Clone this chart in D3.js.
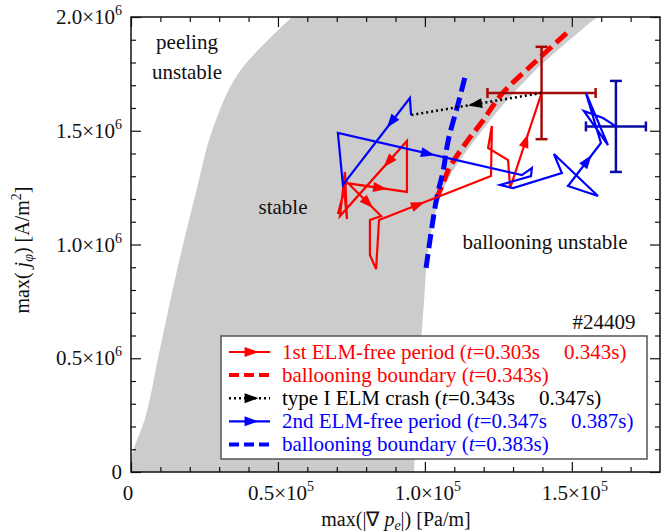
<!DOCTYPE html>
<html>
<head>
<meta charset="UTF-8">
<style>
  body { margin: 0; background: #fff; }
  svg { display: block; }
  text { font-family: "Liberation Serif", "Times New Roman", serif; }
</style>
</head>
<body>
<svg id="chart" width="670" height="532"></svg>
<script src="https://d3js.org/d3.v7.min.js"></script>
<script>
// x in units of 1e5 Pa/m, y in units of 1e6 A/m^2

// stable (gray) region: left and right edges read at the same heights
const stableY     = [0,     0.06,  0.25,  0.5,   0.75,  1.0,   1.25,  1.5,   1.75,  2.0];
const stableLeft  = [0,     0,     0.051, 0.092, 0.133, 0.177, 0.225, 0.276, 0.364, 0.548];
const stableRight = [0.963, 0.965, 0.970, 0.983, 0.997, 1.014, 1.065, 1.194, 1.364, 1.586];

// ballooning boundaries
const redBoundX  = [1.038, 1.062, 1.085, 1.147, 1.194, 1.262, 1.375, 1.483];
const redBoundY  = [1.196, 1.270, 1.341, 1.459, 1.538, 1.662, 1.802, 1.930];
const blueBoundX = [1.004, 1.024, 1.041, 1.062, 1.079, 1.113, 1.140];
const blueBoundY = [0.897, 1.077, 1.209, 1.323, 1.455, 1.618, 1.754];

// 1st ELM-free period (t=0.303s -> 0.343s)
const elm1X = [0.704, 0.732, 0.939, 0.939, 0.711, 0.728, 0.735, 0.721, 0.851, 0.813,
               0.813, 0.834, 0.844, 1.225, 1.228, 1.215, 1.283, 1.290, 1.397];
const elm1Y = [1.134, 1.270, 1.231, 1.455, 1.125, 1.319, 1.112, 1.292, 1.125, 1.108,
               0.954, 0.892, 1.108, 1.301, 1.521, 1.424, 1.371, 1.248, 1.666];
const elm1Arrows = [[1, 0.56], [3, 0.28], [7, 0.66], [12, 0.35], [17, 0.5]];

// type I ELM crash
const crashX = [1.397, 0.953];
const crashY = [1.666, 1.569];
const crashArrows = [[0, 0.51]];

// 2nd ELM-free period (t=0.347s -> 0.387s)
const elm2X = [0.953, 0.949, 0.721, 0.704, 1.330, 1.364, 1.361, 1.256, 1.300, 1.466,
               1.439, 1.589, 1.487, 1.599, 1.548, 1.623, 1.541, 1.606, 1.637, 1.650];
const elm2Y = [1.569, 1.644, 1.262, 1.490, 1.305, 1.336, 1.301, 1.262, 1.248, 1.314,
               1.398, 1.213, 1.257, 1.446, 1.666, 1.437, 1.587, 1.556, 1.530, 1.519];
const elm2Arrows = [[1, 0.28], [3, 0.49], [12, 0.59]];

// error bars (red: end of 1st period, blue: end of 2nd period)
const errX  = [1.397, 1.650];
const errY  = [1.666, 1.519];
const errDX = [0.184, 0.102];
const errDY = [0.203, 0.200];
const errColors = ["#a50a0a", "#0a0aa5"];

const xMajor = [0, 0.5, 1.0, 1.5];
const yMajor = [0, 0.5, 1.0, 1.5, 2.0];

const svg = d3.select("#chart");
const pLeft = 131, pRight = 660, pTop = 17, pBottom = 472;

const x = d3.scaleLinear().domain([0, 1.8]).range([pLeft, pRight]);
const y = d3.scaleLinear().domain([0, 2]).range([pBottom, pTop]);

const zip = (xs, ys) => xs.map((v, i) => [x(v), y(ys[i])]);

// gray stable region
const area = d3.area()
    .y(d => y(d[0]))
    .x0(d => x(d[1]))
    .x1(d => x(d[2]))
    .curve(d3.curveCatmullRom.alpha(0.5));
svg.append("path")
    .datum(stableY.map((v, i) => [v, stableLeft[i], stableRight[i]]))
    .attr("d", area)
    .attr("fill", "#cccccc");

// axes ticks (inward on all four sides)
function ticks(axisFn, pos, vals, size) {
    const g = svg.append("g")
        .attr("transform", pos)
        .call(axisFn.tickValues(vals).tickSizeInner(-size).tickSizeOuter(0).tickFormat(""));
    g.select(".domain").remove();
    g.selectAll(".tick line").attr("stroke", "#111").attr("stroke-width", 1.2);
    return g;
}
const minorX = d3.range(0, 18).map(i => i / 10).filter(v => !xMajor.some(m => Math.abs(m - v) < 1e-6));
const minorY = d3.range(0, 21).map(i => i / 10).filter(v => !yMajor.some(m => Math.abs(m - v) < 1e-6));
ticks(d3.axisBottom(x), `translate(0,${pBottom})`, xMajor, 10);
ticks(d3.axisTop(x), `translate(0,${pTop})`, xMajor, 10);
ticks(d3.axisBottom(x), `translate(0,${pBottom})`, minorX, 5);
ticks(d3.axisTop(x), `translate(0,${pTop})`, minorX, 5);
ticks(d3.axisLeft(y), `translate(${pLeft},0)`, yMajor, 10);
ticks(d3.axisRight(y), `translate(${pRight},0)`, yMajor, 10);
ticks(d3.axisLeft(y), `translate(${pLeft},0)`, minorY, 5);
ticks(d3.axisRight(y), `translate(${pRight},0)`, minorY, 5);

// tick labels
function sciLabel(sel, v, exp) {
    if (v === 0) { sel.text("0"); return; }
    sel.append("tspan").text(v.toFixed(1) + "×10");
    sel.append("tspan").attr("font-size", 14).attr("dy", -9).text(exp);
}
xMajor.forEach(v => {
    const t = svg.append("text")
        .attr("x", x(v) + (v === 0 ? -3 : 3))
        .attr("y", 500)
        .attr("text-anchor", "middle")
        .attr("font-size", 21)
        .attr("fill", "#111");
    sciLabel(t, v, "5");
});
yMajor.forEach(v => {
    const t = svg.append("text")
        .attr("x", 122)
        .attr("y", y(v) + 7)
        .attr("text-anchor", "end")
        .attr("font-size", 21)
        .attr("fill", "#111");
    sciLabel(t, v, "6");
});

// axis titles
const xt = svg.append("text")
    .attr("x", 396).attr("y", 526)
    .attr("text-anchor", "middle").attr("font-size", 20).attr("fill", "#111");
xt.append("tspan").text("max(|∇ ");
xt.append("tspan").attr("font-style", "italic").text("p");
xt.append("tspan").attr("font-style", "italic").attr("font-size", 14).attr("dy", 4).text("e");
xt.append("tspan").attr("dy", -4).text("|) [Pa/m]");

const yt = svg.append("text")
    .attr("transform", "translate(29,250) rotate(-90)")
    .attr("text-anchor", "middle").attr("font-size", 20).attr("fill", "#111");
yt.append("tspan").text("max( ");
yt.append("tspan").attr("font-style", "italic").text("j");
yt.append("tspan").attr("font-style", "italic").attr("font-size", 14).attr("dy", 4).text("φ");
yt.append("tspan").attr("dy", -4).text(") [A/m");
yt.append("tspan").attr("font-size", 14).attr("dy", -8).text("2");
yt.append("tspan").attr("dy", 8).text("]");

// region labels
const labels = [
    ["peeling", 187, 49],
    ["unstable", 187, 79],
    ["stable", 283, 214],
    ["ballooning unstable", 545, 249],
    ["#24409", 604, 329]
];
labels.forEach(([s, lx, ly]) => {
    svg.append("text").attr("x", lx).attr("y", ly).attr("text-anchor", "middle")
        .attr("font-size", 21).attr("fill", "#111").text(s);
});

// ballooning boundaries
svg.append("path").attr("d", d3.line().curve(d3.curveCatmullRom)(zip(redBoundX, redBoundY)))
    .attr("fill", "none").attr("stroke", "#ff0000").attr("stroke-width", 5)
    .attr("stroke-dasharray", "14,6");
svg.append("path").attr("d", d3.line().curve(d3.curveCatmullRom)(zip(blueBoundX, blueBoundY)))
    .attr("fill", "none").attr("stroke", "#0000ff").attr("stroke-width", 5)
    .attr("stroke-dasharray", "14,6");

// error bars
errX.forEach((ex, i) => {
    const g = svg.append("g").attr("stroke", errColors[i]).attr("stroke-width", 2.5);
    const cx = x(ex), cy = y(errY[i]);
    const x0 = x(ex - errDX[i]), x1 = x(ex + errDX[i]);
    const y0 = y(errY[i] - errDY[i]), y1 = y(errY[i] + errDY[i]);
    g.append("line").attr("x1", x0).attr("x2", x1).attr("y1", cy).attr("y2", cy);
    g.append("line").attr("x1", cx).attr("x2", cx).attr("y1", y0).attr("y2", y1);
    [x0, x1].forEach(px => g.append("line").attr("x1", px).attr("x2", px).attr("y1", cy - 5).attr("y2", cy + 5));
    [y0, y1].forEach(py => g.append("line").attr("y1", py).attr("y2", py).attr("x1", cx - 6).attr("x2", cx + 6));
});

// arrow head helper
function arrowHead(g, p0, p1, f, color) {
    const px = p0[0] + f * (p1[0] - p0[0]);
    const py = p0[1] + f * (p1[1] - p0[1]);
    const ang = Math.atan2(p1[1] - p0[1], p1[0] - p0[0]) * 180 / Math.PI;
    g.append("path")
        .attr("d", "M7,0L-7,-5L-7,5Z")
        .attr("transform", `translate(${px},${py}) rotate(${ang})`)
        .attr("fill", color).attr("stroke", "none");
}

function trajectory(xs, ys, arrows, color, dash, width) {
    const pts = zip(xs, ys);
    const g = svg.append("g");
    g.append("path").attr("d", d3.line()(pts))
        .attr("fill", "none").attr("stroke", color).attr("stroke-width", width)
        .attr("stroke-linejoin", "miter")
        .attr("stroke-dasharray", dash);
    arrows.forEach(([s, f]) => arrowHead(g, pts[s], pts[s + 1], f, color));
}
trajectory(elm1X, elm1Y, elm1Arrows, "#ff0000", null, 2.2);
trajectory(elm2X, elm2Y, elm2Arrows, "#0000ff", null, 2.2);
trajectory(crashX, crashY, crashArrows, "#000000", "2,3", 2.5);

// frame
svg.append("rect").attr("x", pLeft).attr("y", pTop)
    .attr("width", pRight - pLeft).attr("height", pBottom - pTop)
    .attr("fill", "none").attr("stroke", "#111").attr("stroke-width", 1.5);

// legend
const legend = [
    { color: "#ff0000", kind: "arrow", pre: "1st ELM-free period (", a: "=0.303s", b: "0.343s)" },
    { color: "#ff0000", kind: "dash", pre: "ballooning boundary (", a: "=0.343s)", b: null },
    { color: "#000000", kind: "dot", pre: "type I ELM crash (", a: "=0.343s", b: "0.347s)" },
    { color: "#0000ff", kind: "arrow", pre: "2nd ELM-free period (", a: "=0.347s", b: "0.387s)" },
    { color: "#0000ff", kind: "dash", pre: "ballooning boundary (", a: "=0.383s)", b: null }
];
const lg = svg.append("g");
lg.append("rect").attr("x", 221).attr("y", 336).attr("width", 426).attr("height", 123)
    .attr("fill", "#fff").attr("stroke", "#555").attr("stroke-width", 1.5);
legend.forEach((d, i) => {
    const cy = 352 + i * 23.1;
    const p0 = [229, cy], p1 = [270, cy];
    if (d.kind === "dash") {
        lg.append("line").attr("x1", 229).attr("x2", 270).attr("y1", cy).attr("y2", cy)
            .attr("stroke", d.color).attr("stroke-width", 4).attr("stroke-dasharray", "10,5");
    } else {
        lg.append("line").attr("x1", 229).attr("x2", 270).attr("y1", cy).attr("y2", cy)
            .attr("stroke", d.color).attr("stroke-width", d.kind === "dot" ? 2.5 : 2.2)
            .attr("stroke-dasharray", d.kind === "dot" ? "2,3" : null);
        arrowHead(lg, p0, p1, 0.55, d.color);
    }
    const t = lg.append("text").attr("x", 282).attr("y", cy + 7)
        .attr("font-size", 21).attr("fill", d.color);
    t.append("tspan").text(d.pre);
    t.append("tspan").attr("font-style", "italic").text("t");
    t.append("tspan").text(d.a);
    if (d.b) t.append("tspan").attr("dx", 24).text(d.b);
});
</script>
</body>
</html>
